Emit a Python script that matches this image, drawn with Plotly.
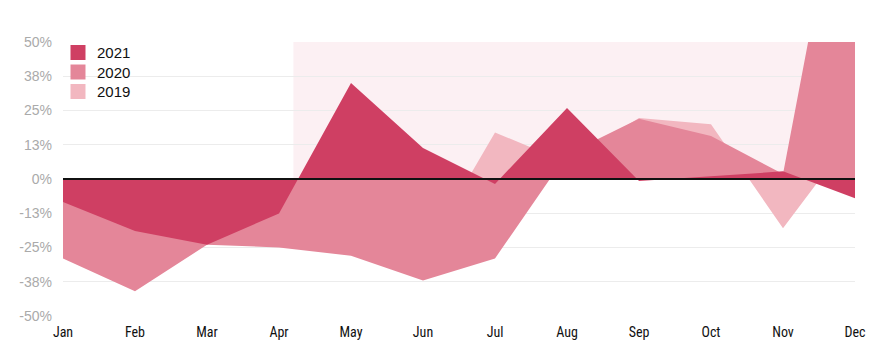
import plotly.graph_objects as go

months = ["Jan", "Feb", "Mar", "Apr", "May", "Jun", "Jul", "Aug", "Sep", "Oct", "Nov", "Dec"]
# monthly change, percent
y2021 = [-8.4, -19.0, -24.0, -12.6, 35.0, 11.3, -1.8, 25.9, -0.7, 1.0, 2.8, -7.0]
y2020 = [-29.0, -41.0, -24.0, -25.0, -28.0, -37.0, -29.0, 9.0, 22.0, 15.7, 1.8, 140.0]
y2019 = [-5.0, -10.0, -8.0, -12.0, -20.0, -28.0, 17.0, 6.0, 22.3, 20.0, -18.0, 17.0]

series_names = ["2021", "2020", "2019"]
series_values = [y2021, y2020, y2019]
series_colors = ["#cf3f63", "#e48699", "#f2b7c0"]

y_tickvals = [-0.5, -0.375, -0.25, -0.125, 0, 0.125, 0.25, 0.375, 0.5]
y_ticktext = ["-50%", "-38%", "-25%", "-13%", "0%", "13%", "25%", "38%", "50%"]

W, H = 894, 354
L, R, T, B = 63, 39, 42, 38
pw, ph = W - L - R, H - T - B


def px_x(x):
    return (x - L) / pw


def px_y(y):
    return (H - B - y) / ph


fig = go.Figure()
x = list(range(len(months)))
# draw back to front: 2019, 2020, 2021
for name, vals, col in reversed(list(zip(series_names, series_values, series_colors))):
    fig.add_trace(go.Scatter(
        x=x, y=[v / 100 for v in vals], name=name, mode="none",
        fill="tozeroy", fillcolor=col, showlegend=False, hoverinfo="skip",
    ))

shapes = [
    dict(type="rect", xref="x", yref="y", x0=3.2, x1=11, y0=0, y1=0.5,
         fillcolor="#fcf0f3", line=dict(width=0), layer="below"),
    dict(type="line", xref="x", yref="y", x0=0, x1=11, y0=0, y1=0,
         line=dict(color="#111111", width=2), layer="above"),
]
annotations = []
for i, (name, col) in enumerate(zip(series_names, series_colors)):
    top = 45 + i * 19.5
    shapes.append(dict(type="rect", xref="paper", yref="paper",
                       x0=px_x(70.5), x1=px_x(85.5), y0=px_y(top + 15), y1=px_y(top),
                       fillcolor=col, line=dict(width=0), layer="above"))
    annotations.append(dict(xref="paper", yref="paper", x=px_x(95), y=px_y(top + 7.5),
                            text=name, showarrow=False, xanchor="left", yanchor="middle",
                            font=dict(family="Liberation Sans, Arial", size=15, color="#111111")))

fig.update_layout(
    width=W, height=H,
    margin=dict(l=L, r=R, t=T, b=B),
    paper_bgcolor="white", plot_bgcolor="white",
    shapes=shapes, annotations=annotations,
    showlegend=False,
)
fig.update_xaxes(
    range=[0, 11], tickvals=x, ticktext=months, showgrid=False, zeroline=False,
    showline=False, ticks="", ticklabelstandoff=6,
    tickfont=dict(family="Liberation Sans Narrow, Roboto Condensed, Roboto", size=14, color="#111111"),
)
fig.update_yaxes(
    range=[-0.5, 0.5], tickvals=y_tickvals, ticktext=y_ticktext,
    showgrid=True, gridcolor="#ececec", gridwidth=1, zeroline=False, showline=False,
    ticks="", ticklabelstandoff=10,
    tickfont=dict(family="Liberation Sans, Arial", size=14, color="#aaaaaa"),
)

fig.write_html("out.html")
